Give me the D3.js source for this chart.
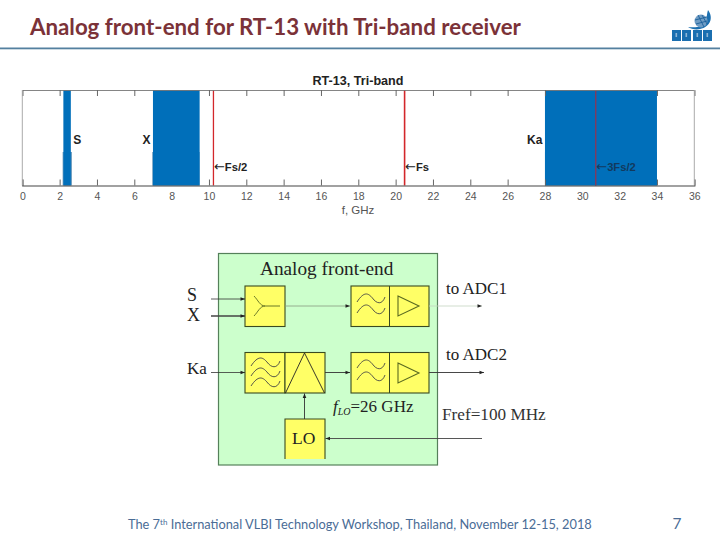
<!DOCTYPE html>
<html>
<head>
<meta charset="utf-8">
<script src="https://cdn.jsdelivr.net/npm/d3@7"></script>
<style>
html, body { margin: 0; padding: 0; background: #fff; }
svg { display: block; }
</style>
</head>
<body>
<div id="slide"></div>
<script>
// chart values, all in GHz
var xTicks = [0, 2, 4, 6, 8, 10, 12, 14, 16, 18, 20, 22, 24, 26, 28, 30, 32, 34, 36];
var bandNames = ["S", "X", "Ka"];
var bandStart = [2.2, 7.0, 28.0];
var bandEnd = [2.6, 9.5, 34.0];
// the two low bands are a little wider near the bottom of the plot
var bandFootStart = [2.16, 6.96, 28.0];
var bandFootEnd = [2.66, 9.5, 34.0];
var sampleNames = ["Fs/2", "Fs", "3Fs/2"];
var sampleFreqs = [10.24, 20.48, 30.72];

var titleText = "Analog front-end for RT-13 with Tri-band receiver";
var plotTitle = "RT-13, Tri-band";
var xLabel = "f, GHz";

var svg = d3.select("#slide").append("svg").attr("width", 720).attr("height", 540);

// slide header
svg.append("text").attr("x", 30).attr("y", 34.5)
    .style("font", "bold 22.3px Lato").style("fill", "#7b3238")
    .text(titleText);
svg.append("rect").attr("x", 0).attr("y", 47.5).attr("width", 720).attr("height", 1.8).attr("fill", "#54809f");

// logo
var logo = svg.append("g").attr("transform", "translate(672,9)");
logo.append("path").attr("fill", "#1b6fb0")
    .attr("d", "M36,1 C42,9 38,18 28,20 C24,21 19,20 16,18 C24,19 32,18 34,11 C35,7 35,4 36,1 Z");
logo.append("circle").attr("cx", 29).attr("cy", 12).attr("r", 6.5).attr("fill", "#6f9cc4");
logo.append("path").attr("fill", "none").attr("stroke", "#1b5f98").attr("stroke-width", 0.9)
    .attr("d", "M23,11 L35,8 M24,15 L35,12 M26,6 L32,18 M30,6 L35,15");
[0, 10, 21, 31].forEach(function (lx) {
    logo.append("rect").attr("x", lx).attr("y", 21).attr("width", 9).attr("height", 11).attr("fill", "#1b6fb0");
    logo.append("rect").attr("x", lx + 3.5).attr("y", 24).attr("width", 1.6).attr("height", 4).attr("fill", "#8fb6d6");
});

// spectrum plot
var x = d3.scaleLinear().domain([0, 36]).range([22.3, 694.3]);
var plotTop = 90, plotBottom = 185.5, footTop = 152;
var plot = svg.append("g");

plot.selectAll("rect.foot").data(bandNames).enter().append("rect")
    .attr("class", "foot")
    .attr("x", function (d, i) { return x(bandFootStart[i]); })
    .attr("width", function (d, i) { return x(bandFootEnd[i]) - x(bandFootStart[i]); })
    .attr("y", footTop).attr("height", plotBottom - footTop)
    .attr("fill", "#6f9dbf");

plot.selectAll("rect.band").data(bandNames).enter().append("rect")
    .attr("class", "band")
    .attr("x", function (d, i) { return x(bandStart[i]); })
    .attr("width", function (d, i) { return x(bandEnd[i]) - x(bandStart[i]); })
    .attr("y", plotTop).attr("height", plotBottom - plotTop)
    .attr("fill", "#006fba");

plot.selectAll("line.fs").data(sampleFreqs).enter().append("line")
    .attr("class", "fs")
    .attr("x1", function (d) { return x(d); }).attr("x2", function (d) { return x(d); })
    .attr("y1", plotTop).attr("y2", plotBottom)
    .attr("stroke", function (d) { return d > 28 ? "#8b3556" : "#d3272b"; })
    .attr("stroke-width", function (d, i) { return i == 1 ? 1.6 : 1.3; });

// ticks point inward on both sides, and do not show over a filled band
function insideBand(v) {
    return bandNames.some(function (d, i) { return v > bandStart[i] && v < bandEnd[i]; });
}
var bottomAxis = d3.axisBottom(x).tickValues(xTicks).tickSize(-6).tickPadding(7);
var topAxis = d3.axisTop(x).tickValues(xTicks).tickSize(-6).tickFormat("");
var gb = plot.append("g").attr("transform", "translate(0," + plotBottom + ")").call(bottomAxis);
var gt = plot.append("g").attr("transform", "translate(0," + plotTop + ")").call(topAxis);
gb.select(".domain").attr("stroke", "#444").attr("stroke-width", 1.2);
gt.select(".domain").attr("stroke", "#777").attr("stroke-width", 0.9);
gb.selectAll(".tick line").attr("stroke", "#666");
gt.selectAll(".tick line").attr("stroke", "#666");
gb.selectAll(".tick line").filter(insideBand).remove();
gt.selectAll(".tick line").filter(insideBand).remove();
gb.selectAll("text").style("font", "10.5px 'Liberation Sans'").attr("fill", "#555");
plot.append("line").attr("x1", x(0)).attr("x2", x(0)).attr("y1", plotTop).attr("y2", plotBottom).attr("stroke", "#aaa");
plot.append("line").attr("x1", x(36)).attr("x2", x(36)).attr("y1", plotTop).attr("y2", plotBottom).attr("stroke", "#aaa");

plot.append("text").attr("x", 358).attr("y", 85).attr("text-anchor", "middle")
    .style("font", "bold 12.6px 'Liberation Sans'").attr("fill", "#222").text(plotTitle);
plot.append("text").attr("x", 358).attr("y", 214).attr("text-anchor", "middle")
    .style("font", "11.5px 'Liberation Sans'").attr("fill", "#555").text(xLabel);

// band names sit next to the band edge
plot.selectAll("text.bandname").data(bandNames).enter().append("text")
    .attr("class", "bandname")
    .attr("x", function (d, i) { return i == 0 ? x(bandEnd[i]) + 2.5 : x(bandStart[i]) - 2.5; })
    .attr("y", 144)
    .attr("text-anchor", function (d, i) { return i == 0 ? "start" : "end"; })
    .style("font", "bold 12px 'Liberation Sans'").attr("fill", "#222")
    .text(function (d) { return d; });

var fsNames = plot.selectAll("text.fsname").data(sampleNames).enter().append("text")
    .attr("class", "fsname")
    .attr("x", function (d, i) { return x(sampleFreqs[i]) + 0.5; })
    .attr("y", 171)
    .style("font", "bold 11.2px 'Liberation Sans'")
    .attr("fill", function (d, i) { return i == 2 ? "#123a5e" : "#222"; });
fsNames.append("tspan").style("font", "13px 'DejaVu Sans'").text("\u2190");
fsNames.append("tspan").text(function (d) { return d; });

// block diagram
var serif = "'Liberation Serif'";
var diagram = svg.append("g");
diagram.append("rect").attr("x", 218.5).attr("y", 253.5).attr("width", 219).attr("height", 211.5)
    .attr("fill", "#ccffcc").attr("stroke", "#55805a").attr("stroke-width", 1.2);

svg.append("defs").append("marker").attr("id", "head")
    .attr("viewBox", "0 0 10 10").attr("refX", 10).attr("refY", 5)
    .attr("markerWidth", 6).attr("markerHeight", 4.5).attr("orient", "auto")
    .attr("markerUnits", "userSpaceOnUse")
    .append("path").attr("d", "M0,1 L10,5 L0,9 Z").attr("fill", "#222");

function block(bx, by, w, h) {
    diagram.append("rect").attr("x", bx).attr("y", by).attr("width", w).attr("height", h)
        .attr("fill", "#ffff66").attr("stroke", "#3a4a20").attr("stroke-width", 1.1);
}
function arrow(x1, y1, x2, y2, color, width) {
    diagram.append("line").attr("x1", x1).attr("y1", y1).attr("x2", x2).attr("y2", y2)
        .attr("stroke", color).attr("stroke-width", width).attr("marker-end", "url(#head)");
}
function wave(wx, wy, w) {
    diagram.append("path").attr("fill", "none").attr("stroke", "#444").attr("stroke-width", 0.9)
        .attr("d", "M" + wx + "," + (wy + 4) + " C" + (wx + w * 0.25) + "," + (wy - 7) + " " + (wx + w * 0.4) + "," + (wy - 5) + " " + (wx + w * 0.55) + "," + wy
            + " C" + (wx + w * 0.7) + "," + (wy + 6) + " " + (wx + w * 0.9) + "," + (wy + 7) + " " + (wx + w) + "," + (wy - 1));
}
function amp(ax, ay) {
    diagram.append("path").attr("fill", "none").attr("stroke", "#5a6a20").attr("stroke-width", 1.1)
        .attr("d", "M" + ax + "," + (ay - 10) + " L" + (ax + 21) + "," + ay + " L" + ax + "," + (ay + 10) + " Z");
}
function label(tx, ty, size, str, color) {
    return diagram.append("text").attr("x", tx).attr("y", ty)
        .style("font", size + "px " + serif).attr("fill", color || "#222").text(str);
}

block(245, 286, 40, 40.5);
block(351, 286, 78, 40.5);
diagram.append("line").attr("x1", 389.5).attr("x2", 389.5).attr("y1", 286).attr("y2", 326.5).attr("stroke", "#3a4a20");
block(245, 352.5, 40, 40.5);
block(285, 352.5, 40, 40.5);
block(351, 352.5, 78, 40.5);
diagram.append("line").attr("x1", 389.5).attr("x2", 389.5).attr("y1", 352.5).attr("y2", 393).attr("stroke", "#3a4a20");

// LO block has no bottom edge in the reference
diagram.append("rect").attr("x", 285).attr("y", 419).attr("width", 40).attr("height", 40).attr("fill", "#ffff66");
diagram.append("path").attr("fill", "none").attr("stroke", "#3a4a20").attr("stroke-width", 1.1)
    .attr("d", "M285,459 L285,419 L325,419 L325,459");

// combiner
diagram.append("path").attr("fill", "none").attr("stroke", "#5a6a20").attr("stroke-width", 0.9)
    .attr("d", "M254,296 C258,300 260,306 265,306 C260,306 258,312 254,316 M265,306 L280,306");
// mixer triangle
diagram.append("path").attr("fill", "none").attr("stroke", "#222").attr("stroke-width", 0.9)
    .attr("d", "M285.5,393 L304.5,353 L324.5,393");

wave(357, 298, 28); wave(357, 309, 28);
wave(357, 364, 28); wave(357, 376, 28);
wave(251, 362, 29); wave(251, 372, 29); wave(251, 382, 29);
amp(398, 306); amp(398, 373);

arrow(211, 299, 245, 299, "#333", 0.8);
arrow(211, 316, 245, 316, "#444", 1.6);
arrow(285, 306, 350, 306, "#889a80", 0.8);
arrow(211, 372.5, 245, 372.5, "#333", 0.8);
arrow(325, 372.5, 350, 372.5, "#333", 0.9);
arrow(429, 306, 482, 306, "#c4d4c0", 0.8);
arrow(429, 372.5, 484, 372.5, "#333", 0.9);
arrow(304.5, 419, 304.5, 393.5, "#333", 0.9);
arrow(482, 438.5, 325.5, 438.5, "#444", 0.9);

label(187, 301, 18, "S");
label(187, 321, 18, "X");
label(187, 374, 17, "Ka");
label(260, 275, 19.3, "Analog front-end");
label(446, 294, 17, "to ADC1");
label(446, 360, 17, "to ADC2");
label(442, 420, 17.2, "Fref=100 MHz", "#333");
label(292, 444, 17.5, "LO");

var flo = label(333, 412, 17, "");
flo.append("tspan").style("font-style", "italic").text("f");
flo.append("tspan").style("font-style", "italic").style("font-size", "10px").attr("dy", 3).text("LO");
flo.append("tspan").attr("dy", -3).text("=26 GHz");

// footer
var footer = svg.append("text").attr("x", 128).attr("y", 529)
    .style("font", "12.8px Lato").attr("fill", "#4a6c96");
footer.append("tspan").text("The 7");
footer.append("tspan").attr("dy", -4).style("font-size", "8px").text("th");
footer.append("tspan").attr("dy", 4).text(" International VLBI Technology Workshop, Thailand, November 12-15, 2018");
svg.append("text").attr("x", 677).attr("y", 529).attr("text-anchor", "middle")
    .style("font", "15.5px Lato").attr("fill", "#4a6c96").text("7");
</script>
</body>
</html>
